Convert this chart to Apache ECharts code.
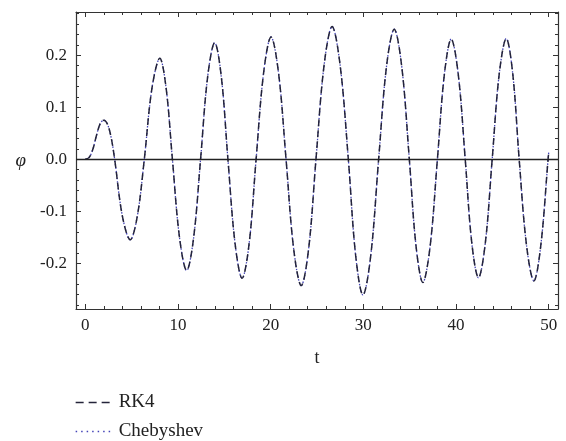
<!DOCTYPE html>
<html>
<head>
<meta charset="utf-8">
<script src="https://cdn.jsdelivr.net/npm/echarts@6/dist/echarts.min.js"></script>
<style>
  html, body { margin: 0; padding: 0; background: #fff; }
  #chart { width: 566px; height: 441px; }
</style>
</head>
<body>
<div id="chart"></div>
<script>
// Pendulum angle φ(t): RK4 integration vs. Chebyshev collocation solution
const tValues = [
  0, 0.4, 0.8, 1.2, 1.6, 2.0, 2.4, 2.8, 3.17,
  4.01, 4.85, 5.61, 6.37,
  7.2, 8.04, 8.72, 9.40,
  10.17, 10.94, 11.69, 12.44,
  13.2, 13.96, 14.68, 15.39,
  16.16, 16.92, 17.68, 18.43,
  19.24, 20.04, 20.85, 21.66,
  22.48, 23.3, 24.1, 24.89,
  25.76, 26.63, 27.5, 28.38,
  29.17, 29.96, 30.8, 31.65,
  32.49, 33.33, 34.15, 34.96,
  35.69, 36.42, 37.2, 37.99,
  38.74, 39.48, 40.24, 40.99,
  41.7, 42.42, 43.16, 43.9,
  44.66, 45.42, 46.12, 46.81,
  47.6, 48.4, 49.15, 49.93, 50
];

const rk4Phi = [
  0, 0.003, 0.018, 0.045, 0.068, 0.075, 0.067, 0.041, 0,
  -0.110, -0.155, -0.110, 0,
  0.137, 0.194, 0.137, 0,
  -0.151, -0.214, -0.151, 0,
  0.158, 0.224, 0.158, 0,
  -0.162, -0.229, -0.162, 0,
  0.166, 0.235, 0.166, 0,
  -0.172, -0.243, -0.172, 0,
  0.180, 0.255, 0.180, 0,
  -0.185, -0.261, -0.185, 0,
  0.177, 0.250, 0.177, 0,
  -0.168, -0.237, -0.168, 0,
  0.163, 0.231, 0.163, 0,
  -0.161, -0.228, -0.161, 0,
  0.164, 0.232, 0.164, 0,
  -0.165, -0.234, -0.165, 0, 0.013
];

const chebyshevPhi = [
  0, 0.003, 0.018, 0.045, 0.068, 0.075, 0.067, 0.041, 0,
  -0.110, -0.155, -0.110, 0,
  0.137, 0.194, 0.137, 0,
  -0.151, -0.214, -0.151, 0,
  0.158, 0.224, 0.158, 0,
  -0.162, -0.229, -0.162, 0,
  0.166, 0.235, 0.166, 0,
  -0.172, -0.243, -0.172, 0,
  0.180, 0.255, 0.180, 0,
  -0.185, -0.261, -0.185, 0,
  0.177, 0.250, 0.177, 0,
  -0.168, -0.237, -0.168, 0,
  0.163, 0.231, 0.163, 0,
  -0.161, -0.228, -0.161, 0,
  0.164, 0.232, 0.164, 0,
  -0.165, -0.234, -0.165, 0, 0.013
];

// Axis ticks
const xMajorTicks = [0, 10, 20, 30, 40, 50];
const xMinorTicks = [2, 4, 6, 8, 12, 14, 16, 18, 22, 24, 26, 28, 32, 34, 36, 38, 42, 44, 46, 48];
const yMajorTicks = [-0.2, -0.1, 0.0, 0.1, 0.2];
const yMinorTicks = [-0.28, -0.26, -0.24, -0.22, -0.18, -0.16, -0.14, -0.12, -0.08, -0.06, -0.04, -0.02,
                     0.02, 0.04, 0.06, 0.08, 0.12, 0.14, 0.16, 0.18, 0.22, 0.24, 0.26, 0.28];

const X_MIN = -1, X_MAX = 51;
const Y_MIN = -0.288, Y_MAX = 0.283;

const FONT = 'Liberation Serif';
const INK = '#222222';
const FRAME = '#333333';
const RK4_COLOR = '#24243a';
const CHEB_COLOR = '#4444b8';
const RK4_DASH = [7, 4];
const CHEB_DOT = [1.5, 2];

const pairs = (xs, ys) => xs.map((x, i) => [x, ys[i]]);

const gridBox = { left: 76, right: 8, top: 12, bottom: 132 };

function majorX(gridIndex, position, showLabel) {
  return {
    type: 'value', gridIndex, position, min: X_MIN, max: X_MAX,
    axisLine: { show: true, onZero: false, lineStyle: { color: FRAME, width: 1.2 } },
    axisTick: { show: true, inside: true, length: 5, customValues: xMajorTicks, lineStyle: { color: FRAME, width: 1 } },
    axisLabel: { show: showLabel, customValues: xMajorTicks, margin: 8, fontFamily: FONT, fontSize: 17, color: INK },
    splitLine: { show: false }
  };
}
function minorX(gridIndex, position) {
  return {
    type: 'value', gridIndex, position, min: X_MIN, max: X_MAX,
    axisLine: { show: false, onZero: false },
    axisTick: { show: true, inside: true, length: 3, customValues: xMinorTicks, lineStyle: { color: FRAME, width: 1 } },
    axisLabel: { show: false },
    splitLine: { show: false }
  };
}
function majorY(gridIndex, position, showLabel) {
  return {
    type: 'value', gridIndex, position, min: Y_MIN, max: Y_MAX,
    axisLine: { show: true, onZero: false, lineStyle: { color: FRAME, width: 1.2 } },
    axisTick: { show: true, inside: true, length: 5, customValues: yMajorTicks, lineStyle: { color: FRAME, width: 1 } },
    axisLabel: { show: showLabel, customValues: yMajorTicks, margin: 9, fontFamily: FONT, fontSize: 17, color: INK,
                 formatter: v => v.toFixed(1) },
    splitLine: { show: false }
  };
}
function minorY(gridIndex, position) {
  return {
    type: 'value', gridIndex, position, min: Y_MIN, max: Y_MAX,
    axisLine: { show: false, onZero: false },
    axisTick: { show: true, inside: true, length: 3, customValues: yMinorTicks, lineStyle: { color: FRAME, width: 1 } },
    axisLabel: { show: false },
    splitLine: { show: false }
  };
}

const xBottom = majorX(0, 'bottom', true);
xBottom.name = 't';
xBottom.nameLocation = 'middle';
xBottom.nameGap = 40;
xBottom.nameTextStyle = { fontFamily: FONT, fontSize: 18, color: INK };

const yLeft = majorY(0, 'left', true);
yLeft.name = 'φ';
yLeft.nameLocation = 'middle';
yLeft.nameRotate = 0;
yLeft.nameGap = 50;
yLeft.nameTextStyle = { fontFamily: FONT, fontSize: 19, fontStyle: 'italic', color: INK, padding: [0, 0, 5, 0] };

// One legend row per series, each with its own line sample pattern
function legendRow(name, top, color, dash) {
  return {
    orient: 'vertical',
    left: 75,
    top,
    padding: 0,
    itemWidth: 35,
    itemHeight: 12,
    itemGap: 0,
    itemStyle: { opacity: 0 },
    lineStyle: { color, width: 1.3, type: dash },
    textStyle: { fontFamily: FONT, fontSize: 19, color: INK, padding: [0, 0, 0, 3] },
    data: [name]
  };
}

const option = {
  backgroundColor: '#ffffff',
  animation: false,
  grid: [
    Object.assign({}, gridBox),
    Object.assign({}, gridBox)
  ],
  xAxis: [
    xBottom,
    majorX(0, 'top', false),
    minorX(1, 'bottom'),
    minorX(1, 'top')
  ],
  yAxis: [
    yLeft,
    majorY(0, 'right', false),
    minorY(1, 'left'),
    minorY(1, 'right')
  ],
  legend: [
    legendRow('RK4', 393, RK4_COLOR, [8, 5]),
    legendRow('Chebyshev', 422, CHEB_COLOR, [1.5, 4])
  ],
  series: [
    {
      name: 'Chebyshev',
      type: 'line',
      xAxisIndex: 0, yAxisIndex: 0,
      data: pairs(tValues, chebyshevPhi),
      smooth: 0.35,
      symbol: 'none',
      lineStyle: { color: CHEB_COLOR, width: 1.3, type: CHEB_DOT },
      itemStyle: { color: CHEB_COLOR },
      z: 3
    },
    {
      name: 'RK4',
      type: 'line',
      xAxisIndex: 0, yAxisIndex: 0,
      data: pairs(tValues, rk4Phi),
      smooth: 0.35,
      symbol: 'none',
      lineStyle: { color: RK4_COLOR, width: 1.5, type: RK4_DASH },
      itemStyle: { color: RK4_COLOR },
      markLine: {
        silent: true,
        symbol: 'none',
        label: { show: false },
        lineStyle: { color: '#222222', width: 1.4, type: 'solid' },
        data: [{ yAxis: 0 }]
      },
      z: 4
    },
    {
      type: 'line',
      xAxisIndex: 2, yAxisIndex: 2,
      data: [],
      silent: true
    }
  ]
};

const chart = echarts.init(document.getElementById('chart'), null, { renderer: 'canvas' });
chart.setOption(option);
</script>
</body>
</html>
